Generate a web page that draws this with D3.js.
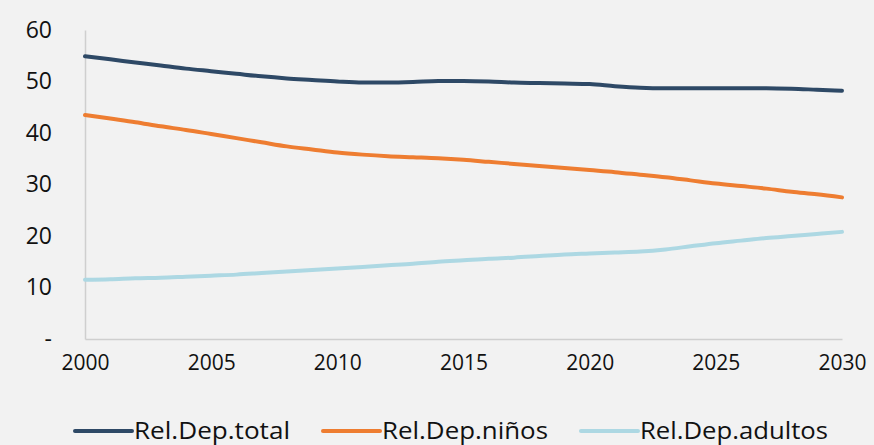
<!DOCTYPE html>
<html lang="es">
<head>
<meta charset="utf-8">
<title>Relación de dependencia</title>
<style>
 body { margin: 0; background: #f2f2f2; }
 svg { display: block; font-family: "Open Sans", sans-serif; }
</style>
<script src="https://d3js.org/d3.v7.min.js"></script>
</head>
<body>
<script>
 // Data
 const years = d3.range(2000, 2031);
 const total = [54.9, 54.3, 53.7, 53.1, 52.5, 52.0, 51.5, 51.0, 50.6, 50.3, 50.0,
                49.8, 49.8, 49.9, 50.1, 50.1, 50.0, 49.8, 49.7, 49.6, 49.5,
                49.1, 48.8, 48.7, 48.7, 48.7, 48.7, 48.7, 48.6, 48.4, 48.2];
 const ninos = [43.5, 42.8, 42.1, 41.3, 40.6, 39.8, 39.0, 38.2, 37.4, 36.8, 36.2,
                35.8, 35.5, 35.3, 35.1, 34.8, 34.4, 34.0, 33.6, 33.2, 32.8,
                32.4, 31.9, 31.4, 30.8, 30.2, 29.7, 29.2, 28.6, 28.1, 27.5];
 const adultos = [11.5, 11.6, 11.8, 11.9, 12.1, 12.3, 12.5, 12.8, 13.1, 13.4, 13.7,
                  14.0, 14.3, 14.6, 15.0, 15.3, 15.6, 15.8, 16.1, 16.4, 16.6,
                  16.8, 17.0, 17.4, 18.0, 18.6, 19.1, 19.6, 20.0, 20.4, 20.8];
 const xTicks = [2000, 2005, 2010, 2015, 2020, 2025, 2030];
 const yTicks = [0, 10, 20, 30, 40, 50, 60];
 const seriesNames = ['Rel.Dep.total', 'Rel.Dep.niños', 'Rel.Dep.adultos'];
 const colors = ['#2e4966', '#ee7d31', '#add8e3'];

 const series = [total, ninos, adultos].map((vals, i) => ({
     name: seriesNames[i],
     color: colors[i],
     values: vals.map((v, j) => ({year: years[j], value: v}))
 }));

 // Display specs
 const W = 874, H = 445;
 const margin = {top: 30, right: 32, bottom: 106, left: 85};
 const width = W - margin.left - margin.right;
 const height = H - margin.top - margin.bottom;

 const svg = d3.select('body').append('svg').attr('width', W).attr('height', H);
 svg.append('rect').attr('width', W).attr('height', H).attr('fill', '#f2f2f2');
 const g = svg.append('g').attr('transform', 'translate(' + margin.left + ',' + margin.top + ')');

 const x = d3.scaleLinear().domain([2000, 2030]).range([0, width]);
 const y = d3.scaleLinear().domain([0, 60]).range([height, 0]);

 // Axes
 const yAxis = g.append('g')
     .call(d3.axisLeft(y).tickValues(yTicks).tickSize(0).tickPadding(33)
           .tickFormat(d => d === 0 ? '-' : d));
 yAxis.select('.domain').attr('stroke', '#cfcfcf').attr('stroke-width', 1.5);
 yAxis.selectAll('text').attr('font-size', 23).attr('fill', '#111')
     .attr('font-family', '"Open Sans", sans-serif');

 const xAxis = g.append('g')
     .attr('transform', 'translate(0,' + height + ')')
     .call(d3.axisBottom(x).tickValues(xTicks).tickSize(0).tickPadding(16)
           .tickFormat(d3.format('d')));
 xAxis.select('.domain').attr('stroke', '#cfcfcf').attr('stroke-width', 1.5);
 xAxis.selectAll('text').attr('font-size', 21).attr('fill', '#111')
     .attr('font-family', '"Open Sans", sans-serif');

 // Lines
 const line = d3.line().x(d => x(d.year)).y(d => y(d.value)).curve(d3.curveMonotoneX);
 g.selectAll('.series')
     .data(series)
     .enter()
     .append('path')
     .attr('class', 'series')
     .attr('fill', 'none')
     .attr('stroke', d => d.color)
     .attr('stroke-width', 4)
     .attr('stroke-linecap', 'round')
     .attr('d', d => line(d.values));

 // Legend
 const legendX = [75, 323, 581];
 const legendLen = [156, 166, 188];
 const legend = svg.append('g').attr('transform', 'translate(0,431)');
 series.forEach((s, i) => {
     legend.append('line')
         .attr('x1', legendX[i]).attr('x2', legendX[i] + 57)
         .attr('y1', 0).attr('y2', 0)
         .attr('stroke', s.color).attr('stroke-width', 4).attr('stroke-linecap', 'round');
     legend.append('text')
         .attr('x', legendX[i] + 59).attr('y', 8)
         .attr('font-size', 24).attr('fill', '#111')
         .attr('textLength', legendLen[i]).attr('lengthAdjust', 'spacingAndGlyphs')
         .text(s.name);
 });
</script>
</body>
</html>
